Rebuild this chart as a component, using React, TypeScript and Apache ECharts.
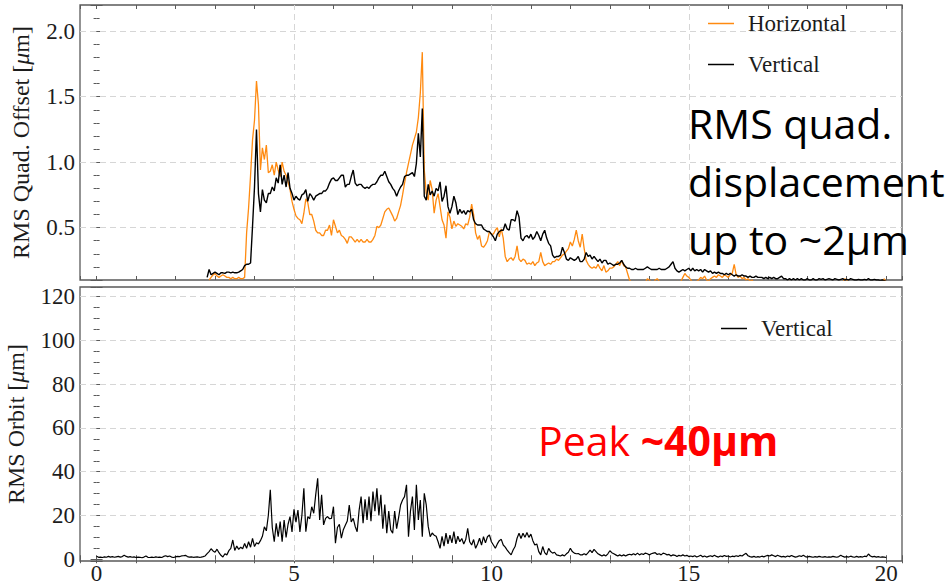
import React, { useEffect, useRef } from "react";
import * as echarts from "echarts";

// Sampling step along the horizontal axis (shared by all traces)
const STEP = 0.05;
const QUAD_V_START = 2.8;
const QUAD_H_START = 2.85;
const ORBIT_START = 0;

// RMS quadrupole offset, vertical plane [um]
const quadVertical = [
  /* 2.80 */ 0.12, 0.18, 0.14, 0.15, 0.16, 0.15, 0.14, 0.155, 0.155, 0.15,
  /* 3.30 */ 0.16, 0.16, 0.155, 0.16, 0.155, 0.155, 0.16, 0.17, 0.18, 0.21,
  /* 3.80 */ 0.22, 0.22, 0.23, 0.51, 0.81, 1.25, 0.76, 0.62, 0.79, 0.71,
  /* 4.30 */ 0.69, 0.76, 0.76, 0.81, 0.78, 0.88, 0.84, 0.98, 0.83, 0.9,
  /* 4.80 */ 0.81, 0.92, 0.8, 0.76, 0.71, 0.74, 0.72, 0.71, 0.75, 0.76,
  /* 5.30 */ 0.79, 0.7, 0.76, 0.74, 0.71, 0.74, 0.75, 0.76, 0.76, 0.78,
  /* 5.80 */ 0.78, 0.8, 0.84, 0.87, 0.88, 0.86, 0.86, 0.88, 0.9, 0.9,
  /* 6.30 */ 0.81, 0.83, 0.83, 0.89, 0.94, 0.84, 0.82, 0.83, 0.83, 0.81,
  /* 6.80 */ 0.8, 0.81, 0.8, 0.82, 0.83, 0.83, 0.85, 0.88, 0.9, 0.9,
  /* 7.30 */ 0.93, 0.89, 0.85, 0.83, 0.8, 0.78, 0.74, 0.78, 0.81, 0.83,
  /* 7.80 */ 0.89, 0.9, 0.9, 0.91, 0.92, 0.89, 0.99, 1.22, 1.04, 1.41,
  /* 8.30 */ 0.74, 0.71, 0.83, 0.75, 0.78, 0.74, 0.8, 0.78, 0.85, 0.7,
  /* 8.80 */ 0.74, 0.82, 0.66, 0.61, 0.66, 0.74, 0.69, 0.6, 0.64, 0.61,
  /* 9.30 */ 0.63, 0.6, 0.63, 0.62, 0.64, 0.56, 0.53, 0.52, 0.52, 0.52,
  /* 9.80 */ 0.49, 0.48, 0.47, 0.47, 0.45, 0.43, 0.4, 0.45, 0.47, 0.48,
  /* 10.30 */ 0.48, 0.53, 0.49, 0.48, 0.56, 0.56, 0.55, 0.63, 0.58, 0.42,
  /* 10.80 */ 0.4, 0.43, 0.44, 0.42, 0.45, 0.41, 0.43, 0.47, 0.44, 0.4,
  /* 11.30 */ 0.45, 0.48, 0.42, 0.38, 0.36, 0.29, 0.27, 0.28, 0.28, 0.29,
  /* 11.80 */ 0.35, 0.31, 0.26, 0.25, 0.27, 0.26, 0.25, 0.26, 0.28, 0.24,
  /* 12.30 */ 0.24, 0.26, 0.31, 0.28, 0.29, 0.26, 0.28, 0.26, 0.24, 0.26,
  /* 12.80 */ 0.23, 0.25, 0.25, 0.22, 0.23, 0.22, 0.21, 0.22, 0.22, 0.23,
  /* 13.30 */ 0.25, 0.22, 0.2, 0.19, 0.19, 0.18, 0.18, 0.19, 0.18, 0.18,
  /* 13.80 */ 0.18, 0.18, 0.19, 0.2, 0.19, 0.18, 0.18, 0.18, 0.18, 0.19,
  /* 14.30 */ 0.18, 0.18, 0.18, 0.19, 0.2, 0.22, 0.24, 0.19, 0.17, 0.16,
  /* 14.80 */ 0.17, 0.18, 0.17, 0.18, 0.19, 0.17, 0.19, 0.17, 0.18, 0.17,
  /* 15.30 */ 0.18, 0.16, 0.18, 0.17, 0.16, 0.17, 0.15, 0.16, 0.15, 0.16,
  /* 15.80 */ 0.15, 0.15, 0.14, 0.15, 0.14, 0.15, 0.14, 0.13, 0.14, 0.13,
  /* 16.30 */ 0.13, 0.14, 0.13, 0.13, 0.12, 0.13, 0.12, 0.12, 0.13, 0.12,
  /* 16.80 */ 0.12, 0.12, 0.11, 0.12, 0.11, 0.12, 0.11, 0.12, 0.11, 0.11,
  /* 17.30 */ 0.12, 0.13, 0.11, 0.11, 0.1, 0.11, 0.1, 0.11, 0.1, 0.11,
  /* 17.80 */ 0.1, 0.11, 0.1, 0.1, 0.11, 0.1, 0.1, 0.11, 0.1, 0.1,
  /* 18.30 */ 0.11, 0.105, 0.11, 0.1, 0.105, 0.11, 0.105, 0.1, 0.11, 0.105,
  /* 18.80 */ 0.1, 0.105, 0.11, 0.1, 0.105, 0.1, 0.11, 0.105, 0.1, 0.1,
  /* 19.30 */ 0.105, 0.1, 0.1, 0.105, 0.1, 0.11, 0.1, 0.1, 0.105, 0.1,
  /* 19.80 */ 0.1, 0.095, 0.1, 0.095, 0.09,
];

// RMS quadrupole offset, horizontal plane [um]
const quadHorizontal = [
  /* 2.85 */ 0.1, 0.12, 0.14, 0.15, 0.13, 0.12, 0.13, 0.14, 0.13, 0.12,
  /* 3.35 */ 0.12, 0.11, 0.12, 0.11, 0.11, 0.12, 0.11, 0.11, 0.12, 0.46,
  /* 3.85 */ 0.65, 0.9, 1.17, 1.32, 1.62, 1.44, 0.94, 1.11, 1.02, 1.13,
  /* 4.35 */ 0.92, 0.93, 0.98, 0.9, 1.0, 0.94, 0.89, 1.0, 0.93, 0.9,
  /* 4.85 */ 0.85, 0.79, 0.7, 0.64, 0.59, 0.57, 0.56, 0.53, 0.61, 0.72,
  /* 5.35 */ 0.69, 0.6, 0.6, 0.55, 0.48, 0.46, 0.46, 0.44, 0.44, 0.48,
  /* 5.85 */ 0.48, 0.52, 0.44, 0.56, 0.51, 0.46, 0.48, 0.44, 0.43, 0.41,
  /* 6.35 */ 0.38, 0.43, 0.43, 0.41, 0.39, 0.41, 0.39, 0.41, 0.39, 0.39,
  /* 6.85 */ 0.41, 0.39, 0.39, 0.41, 0.44, 0.51, 0.5, 0.52, 0.57, 0.62,
  /* 7.35 */ 0.64, 0.65, 0.62, 0.59, 0.55, 0.57, 0.62, 0.67, 0.75, 0.84,
  /* 7.85 */ 0.92, 0.99, 1.06, 1.13, 1.18, 1.23, 1.34, 1.53, 1.84, 0.94,
  /* 8.35 */ 0.76, 0.71, 0.86, 0.79, 0.61, 0.71, 0.76, 0.66, 0.56, 0.52,
  /* 8.85 */ 0.42, 0.62, 0.58, 0.49, 0.55, 0.51, 0.53, 0.52, 0.51, 0.49,
  /* 9.35 */ 0.53, 0.52, 0.58, 0.68, 0.6, 0.46, 0.41, 0.44, 0.36, 0.35,
  /* 9.85 */ 0.37, 0.4, 0.47, 0.45, 0.45, 0.48, 0.5, 0.43, 0.49, 0.42,
  /* 10.35 */ 0.28, 0.24, 0.26, 0.27, 0.25, 0.28, 0.36, 0.26, 0.24, 0.26,
  /* 10.85 */ 0.25, 0.22, 0.23, 0.22, 0.24, 0.21, 0.23, 0.24, 0.31, 0.24,
  /* 11.35 */ 0.21, 0.22, 0.23, 0.22, 0.24, 0.24, 0.26, 0.25, 0.27, 0.29,
  /* 11.85 */ 0.3, 0.32, 0.34, 0.39, 0.36, 0.41, 0.48, 0.4, 0.35, 0.45,
  /* 12.35 */ 0.34, 0.25, 0.22, 0.2, 0.19, 0.2, 0.19, 0.22, 0.19, 0.17,
  /* 12.85 */ 0.21, 0.16, 0.17, 0.19, 0.19, 0.2, 0.22, 0.24, 0.21, 0.25,
  /* 13.35 */ 0.21, 0.2, 0.15, 0.1, 0.08, 0.06, 0.07, 0.05, 0.06, 0.07,
  /* 13.85 */ 0.05, 0.08, 0.11, 0.1, 0.08, 0.07, 0.1, 0.11, 0.09, 0.08,
  /* 14.35 */ 0.06, 0.07, 0.08, 0.07, 0.06, 0.08, 0.07, 0.09, 0.08, 0.09,
  /* 14.85 */ 0.12, 0.15, 0.13, 0.12, 0.1, 0.08, 0.07, 0.09, 0.1, 0.12,
  /* 15.35 */ 0.11, 0.13, 0.1, 0.09, 0.11, 0.12, 0.13, 0.12, 0.14, 0.13,
  /* 15.85 */ 0.12, 0.14, 0.13, 0.12, 0.14, 0.15, 0.22, 0.14, 0.12, 0.13,
  /* 16.35 */ 0.11, 0.12, 0.1, 0.11, 0.09, 0.1, 0.08, 0.07, 0.06, 0.08,
  /* 16.85 */ 0.05, 0.07, 0.06, 0.08, 0.07, 0.05, 0.06, 0.08, 0.07, 0.06,
  /* 17.35 */ 0.05, 0.07, 0.06, 0.08, 0.09, 0.07, 0.06, 0.05, 0.07, 0.06,
  /* 17.85 */ 0.08, 0.07, 0.05, 0.06, 0.07, 0.08, 0.06, 0.05, 0.07, 0.06,
  /* 18.35 */ 0.05, 0.07, 0.08, 0.06, 0.05, 0.07, 0.06, 0.08, 0.07, 0.06,
  /* 18.85 */ 0.09, 0.08, 0.11, 0.1, 0.07, 0.06, 0.05, 0.07, 0.06, 0.05,
  /* 19.35 */ 0.07, 0.06, 0.08, 0.07, 0.05, 0.06, 0.07, 0.06, 0.05, 0.07,
  /* 19.85 */ 0.08, 0.06, 0.11, 0.08,
];

// RMS orbit, vertical plane [um]
const orbitVertical = [
  /* 0.00 */ 1.4, 0.9, 1.0, 0.8, 1.1, 0.9, 1.3, 1.0, 1.2, 0.9,
  /* 0.50 */ 1.1, 1.3, 1.0, 1.2, 1.8, 1.3, 1.0, 1.2, 0.9, 1.1,
  /* 1.00 */ 0.8, 1.0, 0.9, 0.7, 1.0, 1.5, 0.9, 0.8, 1.0, 0.8,
  /* 1.50 */ 1.1, 0.9, 1.0, 0.8, 1.3, 1.6, 1.2, 1.5, 1.0, 0.8,
  /* 2.00 */ 1.1, 1.3, 1.2, 1.5, 1.6, 1.8, 1.2, 1.0, 1.1, 0.9,
  /* 2.50 */ 1.0, 1.1, 0.9, 1.0, 1.2, 1.5, 2.6, 3.5, 4.8, 3.8,
  /* 3.00 */ 3.2, 4.6, 3.0, 1.8, 1.0, 2.5, 2.0, 3.9, 5.0, 8.8,
  /* 3.50 */ 4.0, 6.0, 4.5, 5.5, 4.8, 7.2, 5.0, 8.0, 5.5, 9.5,
  /* 4.00 */ 5.8, 7.5, 7.0, 8.5, 10.5, 14.8, 13.0, 20.0, 31.7, 14.5,
  /* 4.50 */ 8.0, 16.4, 10.3, 17.2, 8.0, 17.9, 10.0, 16.0, 19.5, 12.5,
  /* 5.00 */ 22.8, 17.0, 22.5, 12.5, 20.0, 32.4, 12.6, 19.5, 18.5, 24.0,
  /* 5.50 */ 21.0, 29.4, 37.0, 18.0, 29.4, 15.7, 18.7, 19.5, 18.5, 18.7,
  /* 6.00 */ 24.0, 7.3, 14.5, 16.0, 9.6, 13.5, 15.5, 17.5, 24.8, 17.0,
  /* 6.50 */ 18.7, 15.0, 12.6, 22.5, 28.6, 16.5, 27.4, 18.0, 28.6, 17.4,
  /* 7.00 */ 30.9, 22.0, 32.4, 20.0, 29.4, 14.0, 25.0, 11.9, 22.0, 13.4,
  /* 7.50 */ 11.9, 22.0, 14.0, 19.0, 24.8, 27.1, 28.6, 34.0, 10.3, 22.0,
  /* 8.00 */ 28.6, 13.4, 34.0, 18.0, 27.1, 10.3, 30.1, 24.8, 15.0, 10.3,
  /* 8.50 */ 12.0, 11.0, 10.5, 8.0, 5.0, 10.5, 6.0, 11.9, 7.0, 11.0,
  /* 9.00 */ 7.5, 12.6, 7.0, 10.5, 8.0, 9.5, 7.0, 9.0, 14.1, 8.0,
  /* 9.50 */ 6.5, 9.0, 5.0, 7.0, 9.6, 6.5, 10.3, 7.5, 10.3, 11.1,
  /* 10.00 */ 8.0, 6.5, 5.0, 7.0, 8.5, 9.1, 6.5, 5.5, 4.2, 3.0,
  /* 10.50 */ 2.0, 4.2, 5.8, 9.6, 11.9, 9.5, 11.9, 10.0, 12.2, 10.0,
  /* 11.00 */ 11.5, 8.5, 6.5, 7.0, 3.5, 2.0, 5.8, 3.0, 2.0, 5.0,
  /* 11.50 */ 3.5, 2.8, 3.2, 2.0, 1.8, 1.5, 2.0, 1.5, 2.5, 3.2,
  /* 12.00 */ 5.0, 3.5, 2.8, 2.5, 2.6, 2.0, 2.0, 2.5, 2.0, 3.0,
  /* 12.50 */ 4.2, 3.0, 4.5, 3.5, 2.5, 2.0, 1.5, 2.0, 1.5, 2.5,
  /* 13.00 */ 3.9, 3.0, 2.5, 2.0, 1.5, 2.0, 1.5, 2.0, 1.5, 2.0,
  /* 13.50 */ 2.3, 2.0, 2.5, 2.0, 2.8, 2.0, 2.5, 2.2, 2.8, 2.5,
  /* 14.00 */ 2.0, 2.5, 2.8, 3.0, 2.2, 2.5, 2.0, 2.8, 2.5, 2.0,
  /* 14.50 */ 2.2, 1.5, 2.0, 1.8, 1.2, 1.8, 1.5, 2.0, 1.5, 1.8,
  /* 15.00 */ 1.2, 1.5, 1.2, 1.6, 1.0, 1.4, 1.8, 1.1, 1.5, 1.0,
  /* 15.50 */ 1.3, 1.6, 1.2, 1.8, 1.3, 1.0, 1.5, 1.2, 1.7, 1.3,
  /* 16.00 */ 1.5, 1.0, 1.4, 1.2, 1.6, 1.3, 1.8, 1.5, 2.2, 2.7,
  /* 16.50 */ 1.6, 1.2, 1.0, 1.3, 0.9, 1.2, 1.0, 1.4, 1.1, 1.5,
  /* 17.00 */ 1.8, 1.5, 2.0, 1.6, 1.2, 1.8, 1.4, 1.1, 1.3, 1.0,
  /* 17.50 */ 1.5, 1.2, 1.7, 1.3, 1.0, 1.2, 1.6, 1.3, 1.8, 1.2,
  /* 18.00 */ 1.0, 1.3, 1.1, 0.9, 1.2, 1.0, 1.3, 1.1, 1.0, 1.2,
  /* 18.50 */ 0.9, 1.1, 1.0, 1.3, 1.1, 0.9, 1.2, 1.8, 1.3, 1.0,
  /* 19.00 */ 1.2, 1.0, 1.4, 1.1, 0.9, 1.3, 1.0, 1.2, 1.0, 1.4,
  /* 19.50 */ 1.2, 2.4, 1.5, 1.1, 1.3, 1.0, 1.2, 0.9, 1.1, 1.0,
  /* 20.00 */ 0.8,
];

// Axis ranges and grid lines
const X_MIN = -0.42;
const X_MAX = 20.4;
const xGridLines = [5, 10, 15];
const quadGridLines = [0.5, 1.0, 1.5, 2.0];
const orbitGridLines = [20, 40, 60, 80, 100, 120];

const SERIF = '"Liberation Serif", "DejaVu Serif", serif';
const SANS = '"Open Sans", "Noto Sans", sans-serif';
const FRAME = "#5a5a5a";
const INK = "#1c1c1c";
const ORANGE = "#ff8a10";
const GRID_LINE = { type: [6, 4] as number[], color: "#d6d6d6", width: 1 };

function toPairs(start: number, values: number[]) {
  return values.map((v, i) => [Math.round((start + i * STEP) * 100) / 100, v]);
}

function xAxisFor(gridIndex: number, position: "top" | "bottom", showLabels: boolean) {
  return {
    type: "value",
    gridIndex,
    position,
    min: X_MIN,
    max: X_MAX,
    minInterval: 1,
    maxInterval: 1,
    axisLine: { show: false },
    axisTick: { show: true, inside: true, length: 4, lineStyle: { color: FRAME, width: 1 } },
    splitLine: { show: false },
    axisLabel: {
      show: showLabels,
      margin: 3,
      fontFamily: SERIF,
      fontSize: 23,
      lineHeight: 18,
      color: INK,
      formatter: (v: number) =>
        v >= 0 && v <= 20 && Math.abs(v / 5 - Math.round(v / 5)) < 1e-9 ? String(Math.round(v)) : "",
    },
  };
}

function yAxisFor(
  gridIndex: number,
  position: "left" | "right",
  min: number,
  max: number,
  step: number,
  minorSplit: number,
  labelFormatter: ((v: number) => string) | null,
  name?: string,
  nameGap?: number
) {
  return {
    type: "value",
    gridIndex,
    position,
    min,
    max,
    minInterval: step,
    maxInterval: step,
    axisLine: { show: false },
    axisTick: { show: true, inside: true, length: 6, lineStyle: { color: FRAME, width: 1 } },
    minorTick: { show: true, splitNumber: minorSplit, length: 3, lineStyle: { color: FRAME, width: 1 } },
    splitLine: { show: false },
    minorSplitLine: { show: false },
    axisLabel: {
      show: !!labelFormatter,
      margin: 5,
      fontFamily: SERIF,
      fontSize: 23,
      color: INK,
      formatter: labelFormatter || undefined,
    },
    name: name || "",
    nameLocation: "middle",
    nameRotate: 90,
    nameGap: nameGap || 0,
    nameTextStyle: {
      fontFamily: SERIF,
      fontSize: 24,
      color: INK,
      rich: { i: { fontFamily: SERIF, fontSize: 24, fontStyle: "italic", color: INK } },
    },
  };
}

const quadLabel = (v: number) =>
  v >= 0.5 && Math.abs(v * 2 - Math.round(v * 2)) < 1e-9 ? v.toFixed(1) : "";
const orbitLabel = (v: number) =>
  v >= 0 && Math.abs(v / 20 - Math.round(v / 20)) < 1e-9 ? String(Math.round(v)) : "";

function gridMarkLines(yValues: number[]) {
  return {
    silent: true,
    symbol: "none",
    z: 1,
    label: { show: false },
    lineStyle: GRID_LINE,
    emphasis: { disabled: true },
    data: [...xGridLines.map((v) => ({ xAxis: v })), ...yValues.map((v) => ({ yAxis: v }))],
  };
}

const legendText = {
  fontFamily: SERIF,
  fontSize: 23,
  color: INK,
  lineHeight: 22,
  padding: [0, 0, 0, 9],
};

const option = {
  animation: false,
  backgroundColor: "#ffffff",
  grid: [
    { left: 80, top: 5, width: 822, height: 275, show: true, borderColor: FRAME, borderWidth: 1.3, outerBoundsMode: "none" },
    { left: 80, top: 287, width: 822, height: 274, show: true, borderColor: FRAME, borderWidth: 1.3, outerBoundsMode: "none" },
  ],
  xAxis: [
    xAxisFor(0, "bottom", false),
    xAxisFor(0, "top", false),
    xAxisFor(1, "bottom", true),
    xAxisFor(1, "top", false),
  ],
  yAxis: [
    yAxisFor(0, "left", 0.1, 2.2, 0.5, 5, quadLabel, "RMS Quad. Offset [{i|μ}m]", 47),
    yAxisFor(0, "right", 0.1, 2.2, 0.5, 5, null),
    yAxisFor(1, "left", -0.8, 124.4, 20, 4, orbitLabel, "RMS Orbit [{i|μ}m]", 52),
    yAxisFor(1, "right", -0.8, 124.4, 20, 4, null),
  ],
  legend: [
    {
      data: ["Horizontal", "Vertical"],
      orient: "vertical",
      left: 708,
      top: 12,
      padding: 0,
      icon: "rect",
      itemWidth: 26,
      itemHeight: 1.5,
      itemGap: 18,
      selectedMode: false,
      textStyle: legendText,
    },
    {
      data: ["Vertical"],
      orient: "vertical",
      left: 721,
      top: 317,
      padding: 0,
      icon: "rect",
      itemWidth: 26,
      itemHeight: 1.5,
      selectedMode: false,
      textStyle: legendText,
    },
  ],
  series: [
    {
      name: "Horizontal",
      type: "line",
      xAxisIndex: 0,
      yAxisIndex: 0,
      data: toPairs(QUAD_H_START, quadHorizontal),
      symbol: "none",
      showSymbol: false,
      z: 3,
      lineStyle: { color: ORANGE, width: 1.3 },
      itemStyle: { color: ORANGE },
      emphasis: { disabled: true },
      markLine: gridMarkLines(quadGridLines),
    },
    {
      name: "Vertical",
      type: "line",
      xAxisIndex: 0,
      yAxisIndex: 0,
      data: toPairs(QUAD_V_START, quadVertical),
      symbol: "none",
      showSymbol: false,
      z: 4,
      lineStyle: { color: "#000000", width: 1.4 },
      itemStyle: { color: "#000000" },
      emphasis: { disabled: true },
    },
    {
      name: "Vertical",
      type: "line",
      xAxisIndex: 2,
      yAxisIndex: 2,
      data: toPairs(ORBIT_START, orbitVertical),
      symbol: "none",
      showSymbol: false,
      z: 4,
      lineStyle: { color: "#000000", width: 1.2 },
      itemStyle: { color: "#000000" },
      emphasis: { disabled: true },
      markLine: gridMarkLines(orbitGridLines),
    },
  ],
  graphic: [
    {
      type: "text",
      x: 688,
      y: 94,
      z: 10,
      style: {
        text: "RMS quad.\ndisplacement\nup to ~2μm",
        fontFamily: SANS,
        fontSize: 41,
        lineHeight: 58,
        fill: "#000000",
        verticalAlign: "top",
      },
    },
    {
      type: "text",
      x: 538,
      y: 411,
      z: 10,
      style: {
        text: "{a|Peak }{b|~40μm}",
        verticalAlign: "top",
        rich: {
          a: { fontFamily: SANS, fontSize: 41, lineHeight: 58, fill: "#ff0000" },
          b: { fontFamily: SANS, fontSize: 41, lineHeight: 58, fontWeight: "bold", fill: "#ff0000" },
        },
      },
    },
  ],
};

export default function App() {
  const ref = useRef<HTMLDivElement>(null);
  useEffect(() => {
    if (!ref.current) return;
    const chart = echarts.init(ref.current, undefined, { renderer: "svg" });
    chart.setOption(option as any);
    return () => chart.dispose();
  }, []);
  return (
    <div
      ref={ref}
      style={{ position: "fixed", left: 0, top: 0, width: 952, height: 586, background: "#ffffff" }}
    />
  );
}
